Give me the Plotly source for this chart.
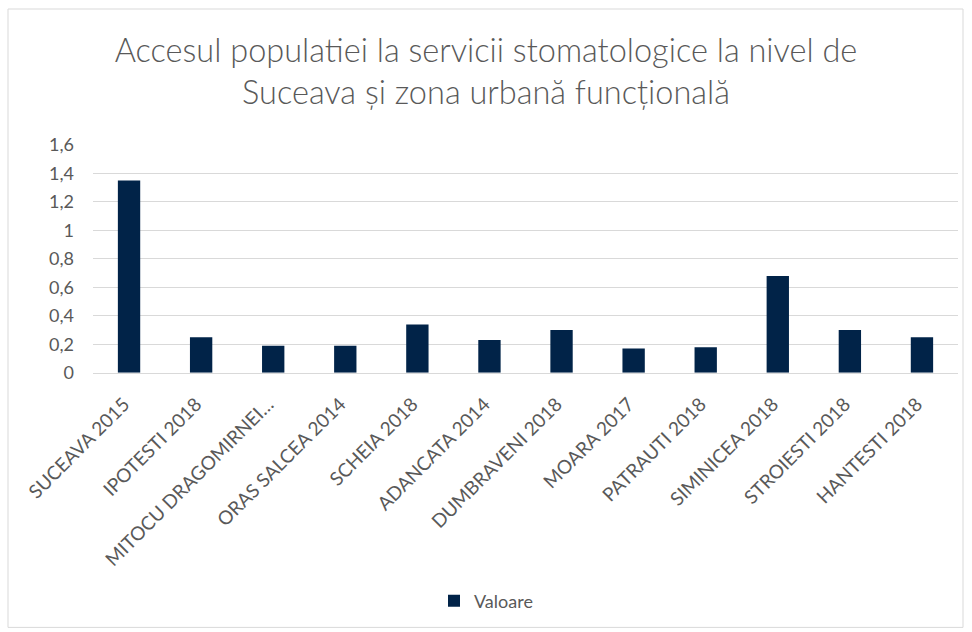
import plotly.graph_objects as go

# Localities and survey year
categories = [
    "SUCEAVA 2015", "IPOTESTI 2018", "MITOCU DRAGOMIRNEI…", "ORAS SALCEA 2014",
    "SCHEIA 2018", "ADANCATA 2014", "DUMBRAVENI 2018", "MOARA 2017",
    "PATRAUTI 2018", "SIMINICEA 2018", "STROIESTI 2018", "HANTESTI 2018",
]
# Dental-service access indicator per locality
values = [1.35, 0.25, 0.19, 0.19, 0.34, 0.23, 0.30, 0.17, 0.18, 0.68, 0.30, 0.25]
series_name = "Valoare"
y_ticks = [0, 0.2, 0.4, 0.6, 0.8, 1.0, 1.2, 1.4, 1.6]

BAR = "#012348"
TEXT = "#595959"
GRID = "#d9d9d9"
FONT = "Lato"

fig = go.Figure(
    go.Bar(
        x=categories,
        y=values,
        name=series_name,
        marker=dict(color=BAR, line=dict(width=0)),
        showlegend=True,
    )
)

W, H = 972, 632
ml, mr, mt, mb = 93, 14, 145, 257.5
pw, ph = W - ml - mr, H - mt - mb


def px_to_paper(x, y):
    return (x - ml) / pw, (H - mb - y) / ph


bx0, by0 = px_to_paper(8, 631)
bx1, by1 = px_to_paper(963, 8)

fig.update_layout(
    width=W,
    height=H,
    autosize=False,
    margin=dict(l=ml, r=mr, t=mt, b=mb, pad=0),
    paper_bgcolor="white",
    plot_bgcolor="white",
    separators=", ",
    font=dict(family=FONT, color=TEXT, size=18),
    bargap=0.69,
    title=dict(
        text="Accesul populatiei la servicii stomatologice la nivel de<br>Suceava și zona urbană funcțională",
        x=0.5,
        xref="container",
        xanchor="center",
        y=1 - 62 / H,
        yref="container",
        yanchor="top",
        font=dict(family=FONT, size=32.5, color=TEXT, weight=300),
    ),
    xaxis=dict(
        type="category",
        tickangle=-45,
        showgrid=False,
        showline=True,
        linecolor=GRID,
        linewidth=1,
        ticks="",
        ticklabelstandoff=12,
        ticklabelshift=-5,
        tickfont=dict(family=FONT, size=19, color=TEXT),
        fixedrange=True,
    ),
    yaxis=dict(
        range=[0, 1.6],
        tickvals=y_ticks,
        showgrid=True,
        gridcolor=GRID,
        gridwidth=1,
        zeroline=False,
        showline=False,
        ticks="",
        ticklabelstandoff=18,
        tickfont=dict(family=FONT, size=18, color=TEXT),
        fixedrange=True,
    ),
    legend=dict(
        orientation="h",
        x=0.5,
        xref="container",
        xanchor="center",
        y=(H - 601) / H,
        yref="container",
        yanchor="middle",
        font=dict(family=FONT, size=18, color=TEXT),
        itemwidth=30,
    ),
    shapes=[
        dict(
            type="rect",
            xref="paper",
            yref="paper",
            x0=bx0,
            x1=bx1,
            y0=by0,
            y1=by1,
            line=dict(color=GRID, width=1),
            fillcolor="rgba(0,0,0,0)",
            layer="below",
        )
    ],
)

fig.write_html("out.html")
